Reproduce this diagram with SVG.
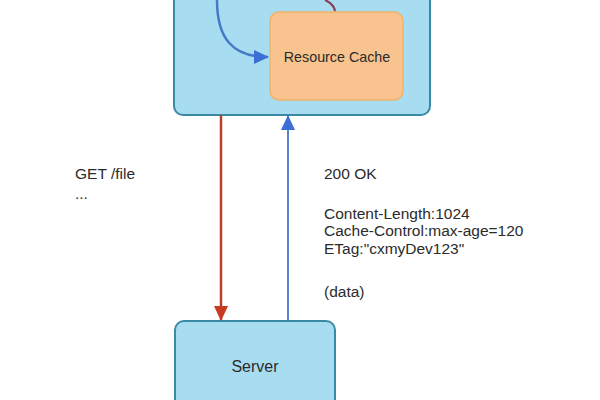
<svg xmlns="http://www.w3.org/2000/svg" width="600" height="400" viewBox="0 0 600 400">
<style>
.box{fill:#a8ddf1;stroke:#3a8aa6;stroke-width:2}
.cache{fill:#f8c38e;stroke:#f0b46a;stroke-width:1.5}
.t{font-family:"Liberation Sans",Arial,sans-serif;font-size:15.5px;fill:#2b2b2b}
.red{stroke:#b4412f;stroke-width:2.5;fill:none}
.blue{stroke:#4579c9;stroke-width:2.5;fill:none}
.darkred{stroke:#8a3a56;stroke-width:2;fill:none}
</style>
<defs>
<marker id="ab" markerWidth="10" markerHeight="10" refX="9" refY="5" orient="auto" markerUnits="userSpaceOnUse" viewBox="0 0 10 10">
<path d="M0,0 L10,5 L0,10 z" fill="#3b6fd6"/>
</marker>
<marker id="abig" markerWidth="16" markerHeight="16" refX="14" refY="8" orient="auto" markerUnits="userSpaceOnUse" viewBox="0 0 16 16">
<path d="M0,1 L15,8 L0,15 z" fill="#3b6fd6"/>
</marker>
<marker id="ar" markerWidth="16" markerHeight="16" refX="14" refY="8" orient="auto" markerUnits="userSpaceOnUse" viewBox="0 0 16 16">
<path d="M0,1 L15,8 L0,15 z" fill="#c63b22"/>
</marker>
</defs>
<rect width="600" height="400" fill="#ffffff"/>
<g id="client">
<rect class="box" x="174" y="-20" width="256" height="135" rx="9"/>
</g>
<g id="resource-cache">
<rect class="cache" x="270" y="12" width="133" height="88" rx="9"/>
<text class="t" x="337" y="62" text-anchor="middle" style="font-size:14.3px">Resource Cache</text>
</g>
<g id="server">
<rect class="box" x="175" y="321" width="160" height="100" rx="9"/>
<text class="t" x="255" y="372" text-anchor="middle" style="font-size:16px">Server</text>
</g>
<g id="connectors">
<path class="blue" d="M217,0 C217,38 232,57 268,57" marker-end="url(#abig)"/>
<path class="darkred" d="M325,0 Q334,4 335,11"/>
<path class="red" d="M221,115 L221,320" marker-end="url(#ar)"/>
<path class="blue" d="M288,321 L288,116" marker-end="url(#abig)" style="stroke-width:1.8"/>
</g>
<g id="labels">
<text class="t" x="75" y="179">GET /file</text>
<text class="t" x="75" y="199">...</text>
<text class="t" x="324" y="179">200 OK</text>
<text class="t" x="324" y="219">Content-Length:1024</text>
<text class="t" x="324" y="236">Cache-Control:max-age=120</text>
<text class="t" x="324" y="254">ETag:"cxmyDev123"</text>
<text class="t" x="324" y="297">(data)</text>
</g>
</svg>
